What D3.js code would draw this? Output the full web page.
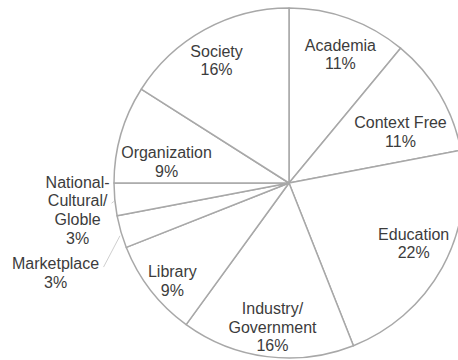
<!DOCTYPE html>
<html>
<head>
<meta charset="utf-8">
<script src="https://cdn.jsdelivr.net/npm/d3@7"></script>
<style>
  html, body { margin: 0; padding: 0; background: #fff; }
  svg { display: block; }
  text { font-family: "Liberation Sans", Arial, sans-serif; font-size: 16px; fill: #3c3c3c; }
</style>
</head>
<body>
<svg id="chart" width="458" height="360"></svg>
<script>
// Share of publications by context, clockwise from 12 o'clock
const categories = [
  "Academia", "Context Free", "Education", "Industry/Government", "Library",
  "Marketplace", "National-Cultural/Globle", "Organization", "Society"
];
const percents = [11, 11, 22, 16, 9, 3, 3, 9, 16];
const labelLines = [
  ["Academia"], ["Context Free"], ["Education"], ["Industry/", "Government"], ["Library"],
  ["Marketplace"], ["National-", "Cultural/", "Globle"], ["Organization"], ["Society"]
];

const width = 458, height = 360;
const cx = 289, cy = 183, radius = 175;
const lineHeight = 18.7;

// label placement tweaks relative to the slice centroid (layout only)
const nudge = [[4, 3], [-9, 20], [2, -7], [1, 5], [-6, 12], [-99, 51], [-72, 14], [12, 18], [-5, 0]];
const outside = [false, false, false, false, false, true, true, false, false];

const svg = d3.select("#chart");
const g = svg.append("g").attr("transform", `translate(${cx},${cy})`);

const data = categories.map((c, i) => ({ name: c, value: percents[i], lines: labelLines[i], i }));

const pie = d3.pie().sort(null).value(d => d.value);
const arcs = pie(data);

const arc = d3.arc().innerRadius(0).outerRadius(radius);
const labelArc = d3.arc().innerRadius(140).outerRadius(140);
const edgeArc = d3.arc().innerRadius(radius).outerRadius(radius);

g.selectAll("path.slice")
  .data(arcs)
  .join("path")
  .attr("class", "slice")
  .attr("d", arc)
  .attr("fill", "#fff")
  .attr("stroke", "#a8a8a8")
  .attr("stroke-width", 1.5)
  .attr("stroke-linejoin", "round");

const labelPos = a => {
  const [x, y] = labelArc.centroid(a);
  const [dx, dy] = nudge[a.data.i];
  return [x + dx, y + dy];
};

// leader lines for the small slices labelled outside the pie
g.selectAll("line.leader")
  .data(arcs.filter(a => outside[a.data.i]))
  .join("line")
  .attr("class", "leader")
  .attr("x1", a => edgeArc.centroid(a)[0] - 1)
  .attr("y1", a => edgeArc.centroid(a)[1] + (a.data.i === 5 ? 4 : 2))
  .attr("x2", a => {
    const [x] = labelPos(a);
    return a.data.i === 5 ? x + 48 : x + 34;
  })
  .attr("y2", a => {
    const [, y] = labelPos(a);
    return a.data.i === 5 ? y - 6 : y - 7;
  })
  .attr("stroke", "#cfcfcf")
  .attr("stroke-width", 1);

const labels = g.selectAll("text.label")
  .data(arcs)
  .join("text")
  .attr("class", "label")
  .attr("text-anchor", "middle")
  .attr("transform", a => {
    const [x, y] = labelPos(a);
    return `translate(${x},${y})`;
  });

labels.each(function (a) {
  const lines = a.data.lines.concat([a.data.value + "%"]);
  const n = lines.length;
  d3.select(this).selectAll("tspan")
    .data(lines)
    .join("tspan")
    .attr("x", 0)
    .attr("y", (d, k) => (k - (n - 1) / 2) * lineHeight)
    .attr("dy", "0.35em")
    .text(d => d);
});
</script>
</body>
</html>
